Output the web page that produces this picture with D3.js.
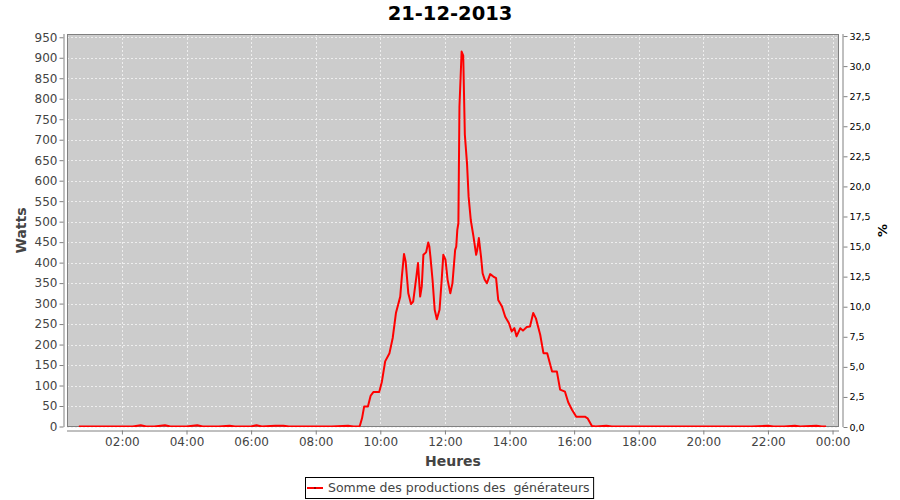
<!DOCTYPE html>
<html><head><meta charset="utf-8">
<script src="https://cdn.jsdelivr.net/npm/d3@7"></script>
<style>body{margin:0;background:#fff} text{font-family:"DejaVu Sans",sans-serif}</style>
</head><body><svg id="c" width="900" height="500"></svg>
<script>
// ---- data ----
const title = "21-12-2013";
const times = ["00:40","01:00","01:20","01:40","02:00","02:20","02:35","02:45","03:00","03:20","03:30","04:00","04:20","04:30","05:00","05:20","05:30","06:00","06:10","06:20","06:45","07:00","07:10","07:40","08:00","08:30","09:00","09:10","09:20",
"09:22","09:26","09:30","09:37","09:42","09:47","09:58","10:03","10:09","10:17","10:23","10:29","10:37","10:40","10:44","10:47","10:52","10:57","11:01","11:07","11:10","11:12","11:14","11:17","11:20","11:25","11:29","11:31","11:33","11:37","11:41","11:45","11:50","11:54","11:57","12:01","12:05","12:10","12:14","12:19","12:21","12:23","12:25","12:27","12:31","12:34","12:37","12:41","12:44","12:48","12:53","12:58","13:00","13:03","13:07","13:10","13:14","13:18","13:24","13:30","13:35","13:39","13:46","13:52","13:59","14:04","14:09","14:13","14:20","14:25","14:32","14:38","14:44","14:49","14:57","15:03","15:10","15:19","15:28","15:34","15:43","15:49","15:56","16:04","16:20","16:25","16:33",
"16:40","17:00","17:10","17:30","18:00","18:30","19:00","19:30","20:00","20:30","21:00","21:30","22:00","22:10","22:30","22:50","23:00","23:30","23:40","23:48"];
const watts = [0,0,0,0,0,0,3,0,0,3,0,0,3,0,0,2,0,0,3,0,2,2,0,0,0,0,2,0,0,
2,20,49,49,75,84,84,110,159,179,216,277,317,366,421,403,325,299,305,366,399,358,317,342,419,425,449,440,415,358,285,262,285,358,419,407,358,325,350,431,439,480,496,781,915,905,712,643,561,504,464,419,431,460,415,374,358,350,372,366,362,309,293,268,252,232,240,220,240,234,243,244,277,264,224,179,179,134,134,90,85,59,41,24,24,20,1,
0,2,0,0,0,0,0,0,0,0,0,0,2,0,0,2,0,2,0,0];
const leftTicks = d3.range(0, 951, 50);
const rightTicks = [0,2.5,5,7.5,10,12.5,15,17.5,20,22.5,25,27.5,30,32.5];
const xLabel = "Heures", yLabel = "Watts", y2Label = "%";
const legendLabel = "Somme des productions des  générateurs";

// ---- layout ----
const svg = d3.select("#c");
const L = 67, R = 839, T = 34, B = 427;
const day = (s) => { const [h, m] = s.split(":").map(Number); return new Date(2013, 11, 21, h, m); };
const x = d3.scaleTime().domain([new Date(2013,11,21,0,18), new Date(2013,11,22,0,12)]).range([L, R]);
const y = d3.scaleLinear().domain([0, 958]).range([B - 0.5, T]);
const y2 = d3.scaleLinear().domain([0, 32.67]).range([B, T]);
const axisCol = "#808080", tickCol = "#444444";

svg.append("text").attr("x", 450).attr("y", 20).attr("text-anchor", "middle")
  .attr("font-size", "19.5px").attr("font-weight", "bold").attr("fill", "#000").text(title);

svg.append("rect").attr("x", L).attr("y", T).attr("width", R - L).attr("height", B - T).attr("fill", "#cccccc");

const xTicks = d3.timeHour.every(2).range(new Date(2013,11,21,1), new Date(2013,11,22,0,1));
// grid
svg.append("g").selectAll("line").data(leftTicks).join("line")
  .attr("x1", L).attr("x2", R).attr("y1", d => Math.round(y(d)) + 0.5).attr("y2", d => Math.round(y(d)) + 0.5)
  .attr("stroke", "#eeeeee").attr("stroke-width", 1).attr("stroke-dasharray", "2,2");
svg.append("g").selectAll("line").data(xTicks).join("line")
  .attr("y1", T).attr("y2", B).attr("x1", d => Math.round(x(d)) + 0.5).attr("x2", d => Math.round(x(d)) + 0.5)
  .attr("stroke", "#eeeeee").attr("stroke-width", 1).attr("stroke-dasharray", "2,2");

// plot outline
svg.append("rect").attr("x", L + 0.5).attr("y", T + 0.5).attr("width", R - L - 1).attr("height", B - T - 1)
  .attr("fill", "none").attr("stroke", axisCol);

// data line
svg.append("clipPath").attr("id", "clip").append("rect").attr("x", L).attr("y", T).attr("width", R - L).attr("height", B - T);
const pts = times.map((t, i) => [day(t), watts[i]]);
svg.append("path").datum(pts).attr("clip-path", "url(#clip)")
  .attr("d", d3.line().x(d => x(d[0])).y(d => y(d[1])))
  .attr("fill", "none").attr("stroke", "#ff0000").attr("stroke-width", 2).attr("stroke-linejoin", "round");

// left axis
const gl = svg.append("g").attr("transform", `translate(${L - 3.5},0)`)
  .call(d3.axisLeft(y).tickValues(leftTicks).tickSize(4).tickSizeOuter(0).tickPadding(2));
gl.select(".domain").attr("stroke", axisCol).attr("d", `M0.5,${T}V${B}`);
gl.selectAll(".tick line").attr("stroke", axisCol);
gl.selectAll(".tick text").attr("fill", tickCol).attr("font-size", "12px").attr("font-family", "DejaVu Sans");

// bottom axis
const gb = svg.append("g").attr("transform", `translate(0,${B + 3.5})`)
  .call(d3.axisBottom(x).tickValues(xTicks).tickFormat(d3.timeFormat("%H:%M")).tickSize(4).tickSizeOuter(0).tickPadding(3));
gb.select(".domain").attr("stroke", axisCol).attr("d", `M${L},0.5H${R}`);
gb.selectAll(".tick line").attr("stroke", axisCol);
gb.selectAll(".tick text").attr("fill", tickCol).attr("font-size", "12px").attr("font-family", "DejaVu Sans");

// right axis
const gr = svg.append("g").attr("transform", `translate(${R + 4.5},0)`)
  .call(d3.axisRight(y2).tickValues(rightTicks).tickFormat(d => d.toFixed(1).replace(".", ",")).tickSize(4).tickSizeOuter(0).tickPadding(2));
gr.select(".domain").attr("stroke", axisCol).attr("d", `M-0.5,${T}V${B}`);
gr.selectAll(".tick line").attr("stroke", axisCol);
gr.selectAll(".tick text").attr("fill", "#000").attr("font-size", "9.5px").attr("font-family", "DejaVu Sans");

// axis labels
svg.append("text").attr("transform", `translate(25.5,${(T + B) / 2}) rotate(-90)`).attr("text-anchor", "middle")
  .attr("font-size", "14px").attr("font-weight", "bold").attr("fill", tickCol).text(yLabel);
svg.append("text").attr("transform", `translate(886.5,${(T + B) / 2}) rotate(-90)`).attr("text-anchor", "middle")
  .attr("font-size", "13px").attr("font-weight", "bold").attr("fill", "#000").text(y2Label);
svg.append("text").attr("x", 453).attr("y", 466).attr("text-anchor", "middle")
  .attr("font-size", "14px").attr("font-weight", "bold").attr("fill", tickCol).text(xLabel);

// legend
const lg = svg.append("g");
const lt = lg.append("text").attr("x", 328).attr("y", 492).attr("font-size", "12.5px").attr("fill", tickCol)
  .style("white-space", "pre").text(legendLabel);
const tw = lt.node().getComputedTextLength();
lg.insert("rect", "text").attr("x", 305.5).attr("y", 477.5).attr("width", tw + 328 - 305.5 + 4).attr("height", 21)
  .attr("fill", "#fff").attr("stroke", "#000");
lg.append("line").attr("x1", 307).attr("x2", 323).attr("y1", 488).attr("y2", 488).attr("stroke", "#ff0000").attr("stroke-width", 2);
lg.append("rect").attr("x", 314).attr("y", 487).attr("width", 2).attr("height", 2).attr("fill", "#990000");
</script></body></html>
